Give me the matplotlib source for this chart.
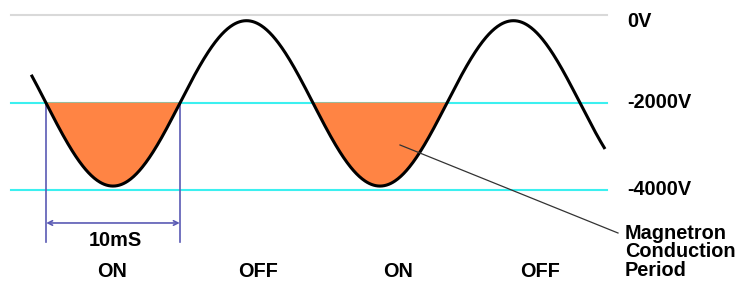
import numpy as np
import matplotlib
matplotlib.use('Agg')
import matplotlib.pyplot as plt

# waveform (time in ms, volts)
period_ms = 20.0
offset_v = -2020.0
amplitude_v = 1890.0
t_start, t_end = -1.07, 41.8
fill_until = 30.0          # last dip on the right is not shaded

level_values = [0, -2000, -4000]
level_labels = ['0V', '-2000V', '-4000V']
level_label_y = [-140, -2000, -4000]
level_colors = ['#d9d9d9', '#3cf0f0', '#3cf0f0']

state_labels = ['ON', 'OFF', 'ON', 'OFF']
state_times = [4.93, 15.86, 26.35, 36.98]

span_start, span_end = 0.0, 10.0
span_text = '10mS'

note_text = 'Magnetron\nConduction\nPeriod'

plt.rcParams['font.family'] = ['Liberation Sans', 'DejaVu Sans']
fs = 14.3

fig = plt.figure(figsize=(7.42, 2.82), dpi=100)
ax = fig.add_axes([0, 0, 1, 1])
ax.set_xlim(-3.464, 52.12)
ax.set_ylim(-6103, 343)
ax.axis('off')

t = np.linspace(t_start, t_end, 800)
v = offset_v - amplitude_v * np.sin(2 * np.pi * t / period_ms)

# reference levels
for val, ly, lab, col in zip(level_values, level_label_y, level_labels, level_colors):
    ax.plot([-2.64, 42.0], [val, val], color=col, lw=1.5, zorder=1)
    ax.text(43.55, ly, lab, fontsize=fs, fontweight='bold', va='center', ha='left')

# conduction periods
ax.fill_between(t, v, -2000, where=(v < -2000) & (t < fill_until),
                color='#ff8444', lw=0, zorder=2)
ax.plot(t, v, color='black', lw=2.2, zorder=3)

# 10 ms dimension
dim_col = '#5a5ab4'
ax.plot([span_start, span_start], [-2000, -5190], color=dim_col, lw=1.2)
ax.plot([span_end, span_end], [-2000, -5190], color=dim_col, lw=1.2)
ax.annotate('', xy=(span_start, -4754), xytext=(span_end, -4754),
            arrowprops=dict(arrowstyle='<->', color=dim_col, lw=1.2,
                            shrinkA=0, shrinkB=0, mutation_scale=8))
ax.text((span_start + span_end) / 2 + 0.15, -5143, span_text, fontsize=fs,
        fontweight='bold', ha='center', va='center')

for lab, x in zip(state_labels, state_times):
    ax.text(x, -5874, lab, fontsize=fs, fontweight='bold', ha='center', va='center')

ax.plot([26.5, 42.83], [-2971, -4983], color='#333333', lw=0.9, zorder=4)
ax.text(43.35, -5417, note_text, fontsize=fs, fontweight='bold',
        ha='left', va='center', linespacing=0.95)

fig.savefig('out.png', dpi=100, facecolor='white')
